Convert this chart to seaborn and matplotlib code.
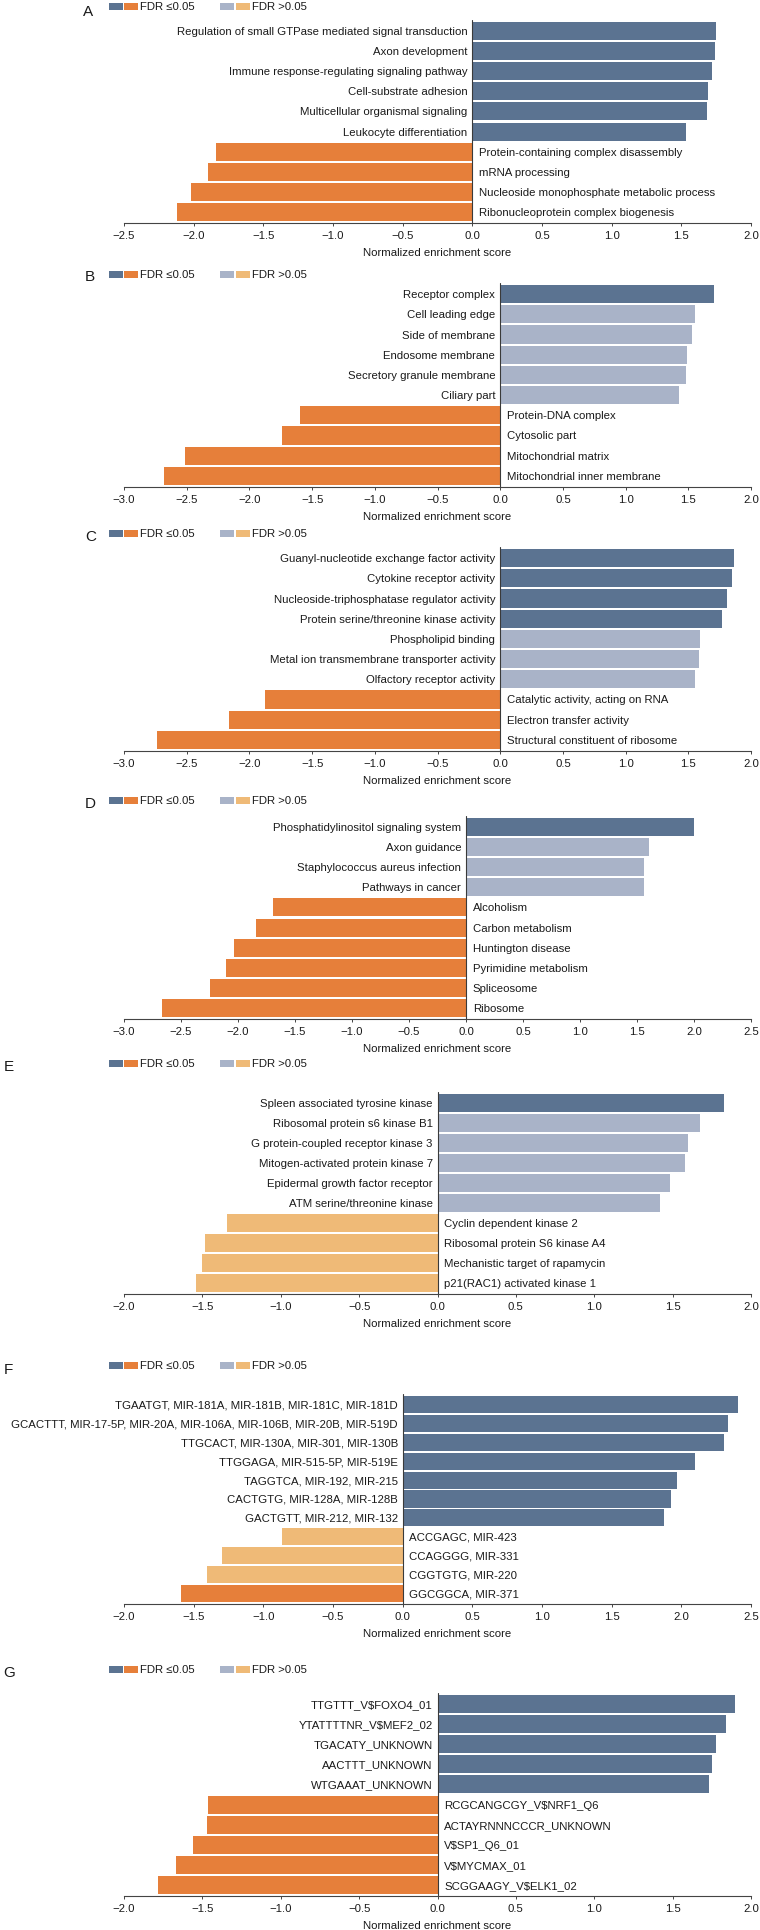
import matplotlib
matplotlib.use("Agg")
import matplotlib.pyplot as plt
import seaborn as sns
import pandas as pd
from matplotlib.patches import Rectangle
from matplotlib.ticker import FixedLocator, FuncFormatter
import numpy as np

sns.set_theme(style="white")
plt.rcParams['font.family'] = ['Liberation Sans', 'DejaVu Sans']

# ---------------- data ----------------
a_terms = ["Regulation of small GTPase mediated signal transduction", "Axon development",
           "Immune response-regulating signaling pathway", "Cell-substrate adhesion",
           "Multicellular organismal signaling", "Leukocyte differentiation",
           "Protein-containing complex disassembly", "mRNA processing",
           "Nucleoside monophosphate metabolic process", "Ribonucleoprotein complex biogenesis"]
a_nes = [1.746, 1.739, 1.722, 1.694, 1.687, 1.537, -1.837, -1.899, -2.017, -2.122]
a_sig = [1, 1, 1, 1, 1, 1, 1, 1, 1, 1]

b_terms = ["Receptor complex", "Cell leading edge", "Side of membrane", "Endosome membrane",
           "Secretory granule membrane", "Ciliary part", "Protein-DNA complex", "Cytosolic part",
           "Mitochondrial matrix", "Mitochondrial inner membrane"]
b_nes = [1.703, 1.556, 1.529, 1.490, 1.483, 1.429, -1.595, -1.737, -2.517, -2.683]
b_sig = [1, 0, 0, 0, 0, 0, 1, 1, 1, 1]

c_terms = ["Guanyl-nucleotide exchange factor activity", "Cytokine receptor activity",
           "Nucleoside-triphosphatase regulator activity", "Protein serine/threonine kinase activity",
           "Phospholipid binding", "Metal ion transmembrane transporter activity",
           "Olfactory receptor activity", "Catalytic activity, acting on RNA",
           "Electron transfer activity", "Structural constituent of ribosome"]
c_nes = [1.861, 1.849, 1.807, 1.768, 1.591, 1.583, 1.556, -1.873, -2.166, -2.737]
c_sig = [1, 1, 1, 1, 0, 0, 0, 1, 1, 1]

d_terms = ["Phosphatidylinositol signaling system", "Axon guidance",
           "Staphylococcus aureus infection", "Pathways in cancer", "Alcoholism",
           "Carbon metabolism", "Huntington disease", "Pyrimidine metabolism",
           "Spliceosome", "Ribosome"]
d_nes = [2.004, 1.605, 1.563, 1.562, -1.694, -1.839, -2.034, -2.102, -2.250, -2.671]
d_sig = [1, 0, 0, 0, 1, 1, 1, 1, 1, 1]

e_terms = ["Spleen associated tyrosine kinase", "Ribosomal protein s6 kinase B1",
           "G protein-coupled receptor kinase 3", "Mitogen-activated protein kinase 7",
           "Epidermal growth factor receptor", "ATM serine/threonine kinase",
           "Cyclin dependent kinase 2", "Ribosomal protein S6 kinase A4",
           "Mechanistic target of rapamycin", "p21(RAC1) activated kinase 1"]
e_nes = [1.826, 1.675, 1.598, 1.582, 1.483, 1.421, -1.340, -1.486, -1.505, -1.542]
e_sig = [1, 0, 0, 0, 0, 0, 0, 0, 0, 0]

f_terms = ["TGAATGT, MIR-181A, MIR-181B, MIR-181C, MIR-181D",
           "GCACTTT, MIR-17-5P, MIR-20A, MIR-106A, MIR-106B, MIR-20B, MIR-519D",
           "TTGCACT, MIR-130A, MIR-301, MIR-130B", "TTGGAGA, MIR-515-5P, MIR-519E",
           "TAGGTCA, MIR-192, MIR-215", "CACTGTG, MIR-128A, MIR-128B",
           "GACTGTT, MIR-212, MIR-132", "ACCGAGC, MIR-423", "CCAGGGG, MIR-331",
           "CGGTGTG, MIR-220", "GGCGGCA, MIR-371"]
f_nes = [2.405, 2.332, 2.308, 2.095, 1.970, 1.925, 1.873, -0.867, -1.298, -1.406, -1.594]
f_sig = [1, 1, 1, 1, 1, 1, 1, 0, 0, 0, 1]

g_terms = ["TTGTTT_V$FOXO4_01", "YTATTTTNR_V$MEF2_02", "TGACATY_UNKNOWN", "AACTTT_UNKNOWN",
           "WTGAAAT_UNKNOWN", "RCGCANGCGY_V$NRF1_Q6", "ACTAYRNNNCCCR_UNKNOWN",
           "V$SP1_Q6_01", "V$MYCMAX_01", "SCGGAAGY_V$ELK1_02"]
g_nes = [1.898, 1.842, 1.774, 1.749, 1.731, -1.467, -1.471, -1.557, -1.669, -1.786]
g_sig = [1, 1, 1, 1, 1, 1, 1, 1, 1, 1]

panel_letters = ["A", "B", "C", "D", "E", "F", "G"]
x_limits = [(-2.5, 2.0), (-3.0, 2.0), (-3.0, 2.0), (-3.0, 2.5), (-2.0, 2.0), (-2.0, 2.5), (-2.0, 2.0)]
xlabel = "Normalized enrichment score"
legend_sig = "FDR \u22640.05"
legend_ns = "FDR >0.05"

# ---------------- style ----------------
C_POS_SIG = "#5B7391"
C_POS_NS = "#A9B3C8"
C_NEG_SIG = "#E67F3A"
C_NEG_NS = "#EFBA77"

W, H = 760, 1931
FS = 8.2

# pixel layout: (line_top, axis_y, legend_y, label_x, label_y)
layout = [
    (21, 224, 7, 83, 12),
    (284, 488, 275, 85, 277),
    (548, 752, 534, 85, 537),
    (817, 1020, 801, 85, 804),
    (1093, 1295, 1064, 4, 1067),
    (1395, 1605, 1366, 4, 1370),
    (1694, 1897, 1670, 3, 1673),
]
AX_L, AX_R = 124, 751

panels = [
    (a_terms, a_nes, a_sig), (b_terms, b_nes, b_sig), (c_terms, c_nes, c_sig),
    (d_terms, d_nes, d_sig), (e_terms, e_nes, e_sig), (f_terms, f_nes, f_sig),
    (g_terms, g_nes, g_sig),
]

fig = plt.figure(figsize=(W / 100, H / 100), dpi=100)


def color_for(v, s):
    if v >= 0:
        return C_POS_SIG if s else C_POS_NS
    return C_NEG_SIG if s else C_NEG_NS


def fmt(v, pos):
    return f"{v:.1f}".replace("-", "\u2212")


for (terms, nes, sig), letter, xl, (top, axy, legy, labx, laby) in zip(
        panels, panel_letters, x_limits, layout):
    n = len(terms)
    ax = fig.add_axes([AX_L / W, 1 - axy / H, (AX_R - AX_L) / W, (axy - top) / H])
    df = pd.DataFrame({"term": terms, "nes": nes, "sig": sig})
    pal = {t: color_for(v, s) for t, v, s in zip(terms, nes, sig)}
    sns.barplot(data=df, y="term", x="nes", hue="term", palette=pal, legend=False,
                width=0.9, orient="h", ax=ax, saturation=1, linewidth=0)
    ax.set_xlim(*xl)
    ax.set_ylim(n - 0.45, -0.55)
    ax.axvline(0, color="#3a3a3a", lw=0.8, zorder=3)

    for i, (t, v) in enumerate(zip(terms, nes)):
        if v >= 0:
            ax.annotate(t, xy=(0, i), xytext=(-3.5, 0), textcoords="offset points",
                        ha="right", va="center", fontsize=FS, color="#1a1a1a")
        else:
            ax.annotate(t, xy=(0, i), xytext=(4.8, 0), textcoords="offset points",
                        ha="left", va="center", fontsize=FS, color="#1a1a1a")

    ticks = np.arange(xl[0], xl[1] + 0.001, 0.5)
    ax.xaxis.set_major_locator(FixedLocator(ticks))
    ax.xaxis.set_major_formatter(FuncFormatter(fmt))
    ax.tick_params(axis="x", direction="out", length=2.5, width=0.7, color="#444444",
                   labelsize=FS, pad=2.5, labelcolor="#1a1a1a", bottom=True)
    ax.set_yticks([])
    ax.set_ylabel("")
    ax.set_xlabel(xlabel, fontsize=FS, color="#1a1a1a", labelpad=5)
    for s in ["top", "right", "left"]:
        ax.spines[s].set_visible(False)
    ax.spines["bottom"].set_color("#444444")
    ax.spines["bottom"].set_linewidth(0.8)

    # panel letter
    fig.text(labx / W, 1 - laby / H, letter, fontsize=11, ha="left", va="center",
             color="#1a1a1a")
    # legend
    sw, sh = 14, 7
    for x0, col in [(109, C_POS_SIG), (124, C_NEG_SIG), (220, C_POS_NS), (236, C_NEG_NS)]:
        fig.add_artist(Rectangle((x0 / W, 1 - (legy + sh / 2) / H), sw / W, sh / H,
                                 transform=fig.transFigure, facecolor=col, edgecolor="none"))
    fig.text(140 / W, 1 - legy / H, legend_sig, fontsize=FS, ha="left", va="center",
             color="#1a1a1a")
    fig.text(252 / W, 1 - legy / H, legend_ns, fontsize=FS, ha="left", va="center",
             color="#1a1a1a")

fig.savefig("out.png", dpi=100)
